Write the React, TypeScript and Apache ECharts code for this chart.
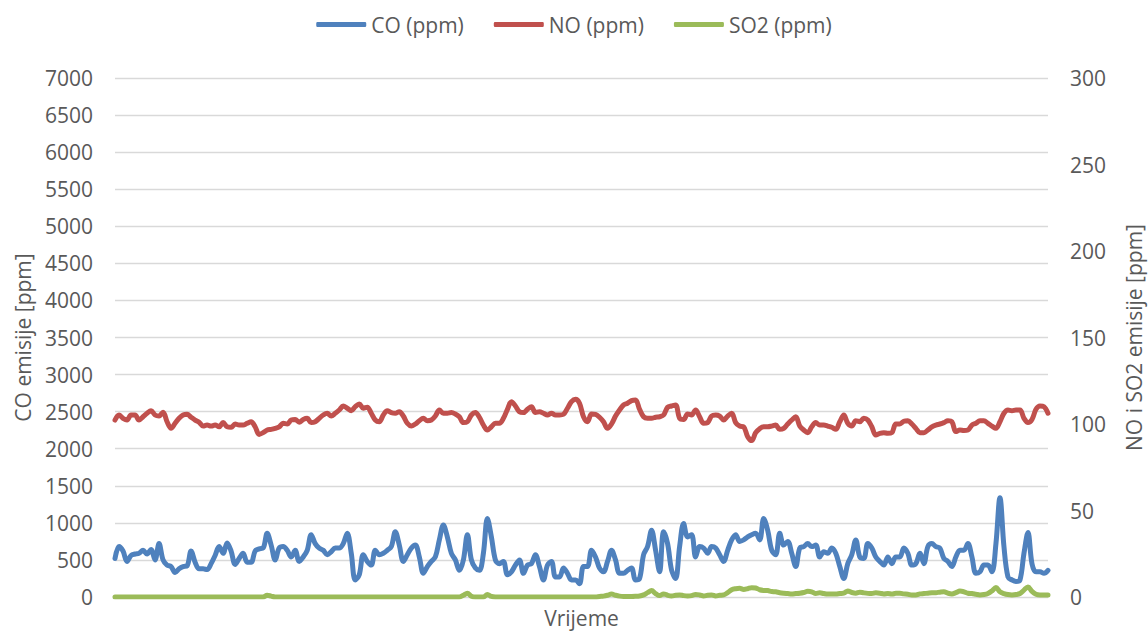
import React, { useEffect, useRef } from "react";
import * as echarts from "echarts";

const seriesNames = ["CO (ppm)", "NO (ppm)", "SO2 (ppm)"];

const coValues = [
  520, 680, 620, 480, 560, 580, 590, 630, 580, 640, 500, 720, 500, 430, 410, 330, 380, 410, 420, 620,
  470, 380, 380, 370, 450, 560, 680, 590, 730, 620, 440, 520, 590, 470, 470, 620, 650, 660, 860, 700,
  500, 660, 680, 630, 540, 630, 480, 540, 630, 840, 720, 660, 630, 570, 610, 660, 660, 720, 860, 590,
  230, 300, 570, 480, 430, 630, 570, 590, 630, 680, 880, 700, 480, 570, 660, 700, 540, 320, 410,
  480, 540, 770, 970, 810, 590, 500, 360, 500, 840, 500, 390, 360, 590, 1060, 810, 500, 450, 480, 300,
  340, 430, 500, 320, 430, 450, 570, 410, 230, 430, 480, 270, 270, 390, 320, 230, 230, 180, 410,
  410, 630, 540, 390, 340, 480, 630, 500, 320, 320, 360, 390, 230, 250, 570, 680, 900, 630, 340, 880,
  720, 360, 250, 680, 990, 810, 840, 540, 680, 660, 590, 680, 660, 570, 480, 630, 770, 840, 750,
  770, 810, 840, 860, 770, 1060, 900, 630, 570, 860, 700, 750, 590, 410, 660, 680, 720, 680, 700, 540,
  610, 590, 660, 590, 410, 250, 450, 570, 770, 540, 520, 720, 660, 540, 480, 430, 540, 450, 540,
  540, 660, 590, 430, 450, 590, 450, 680, 720, 680, 660, 520, 480, 410, 540, 630, 630, 720, 540, 320,
  340, 430, 430, 340, 720, 1340, 680, 270, 230, 210, 230, 590, 870, 450, 340, 340, 320, 360,
];

const noValues = [
  102.3, 105.2, 103.3, 102.3, 105.2, 105.2, 102.3, 104.2, 106.2, 107.7, 105.2, 104.6, 106.8, 101.3, 97.5, 100.4, 103.3, 105.2, 105.6, 103.9,
  102.3, 101, 98.8, 99.4, 98.8, 99.4, 98.4, 100.8, 98.4, 98.1, 100, 99.4, 99.4, 100.4, 101.3, 98.4, 94, 95, 96.5, 96.9,
  97.5, 98.4, 100.4, 100, 102.3, 102.6, 101, 102.6, 103.3, 100.8, 101.3, 103.3, 105.2, 106.2, 104.6, 106.2, 108.1, 110.4, 109.1, 107.7,
  110, 111.6, 109.1, 109.7, 106.2, 102.3, 101.3, 105.2, 107.7, 106.6, 106.2, 107.1, 104.6, 100.4, 98.8, 100, 101.9, 103.3, 101.9,
  102.3, 104.6, 108.1, 106.2, 106.2, 106.6, 105.8, 104.2, 100.8, 101.3, 105.2, 106.6, 103.9, 99.4, 96.5, 98.4, 100.4, 100.4, 103.3, 108.5,
  112.9, 110.4, 107.1, 106.6, 108.5, 110, 106.6, 107.1, 106.2, 105.2, 106.2, 105.2, 105.2, 105.6, 109.1, 112.9, 114.3, 112, 104.2,
  101.3, 105.8, 105.6, 103.9, 101.3, 97.5, 100, 104.6, 108.1, 111, 112, 113.5, 113.9, 108.5, 104.2, 103.3, 103.3, 103.9, 104.2, 105.2,
  109.7, 110.4, 111, 103.3, 102.6, 105.8, 105.2, 108.1, 104.2, 100.4, 100.8, 104.6, 105.2, 104.6, 102.3, 104.6, 106.2, 100.8, 98.8,
  98.4, 92.7, 90.4, 95, 97.3, 98.4, 98.4, 98.8, 99.4, 96.9, 97.5, 100, 102.3, 104.2, 98.8, 96.5, 95, 98.4, 100.8, 99.4,
  99.4, 98.8, 98.1, 96.9, 101.3, 105.2, 100.4, 98.8, 101.9, 101.3, 103.3, 102.3, 98.4, 93.6, 94.6, 95, 94.6, 95, 100,
  100, 101.6, 101.9, 100, 97.5, 95, 95, 96.5, 98.4, 99.4, 100, 100.8, 101.9, 101.3, 95.6, 96.5, 96.2, 96.5, 99.4, 100.4,
  101.9, 101.9, 100.4, 98.8, 97.5, 101.3, 106.2, 108.1, 107.7, 108.1, 108.1, 103.3, 100.8, 102.6, 108.5, 110.4, 110, 106.2,
];

const so2Values = [
  0, 0, 0, 0, 0, 0, 0, 0, 0, 0, 0, 0, 0, 0, 0, 0, 0, 0, 0, 0,
  0, 0, 0, 0, 0, 0, 0, 0, 0, 0, 0, 0, 0, 0, 0, 0, 0, 0, 1.0, 0.5,
  0, 0, 0, 0, 0, 0, 0, 0, 0, 0, 0, 0, 0, 0, 0, 0, 0, 0, 0, 0,
  0, 0, 0, 0, 0, 0, 0, 0, 0, 0, 0, 0, 0, 0, 0, 0, 0, 0, 0, 0,
  0, 0, 0, 0, 0, 0, 0, 1, 2.2, 0.5, 0, 0, 0, 1.5, 0.3, 0, 0, 0, 0, 0,
  0, 0, 0, 0, 0, 0, 0, 0, 0, 0, 0, 0, 0, 0, 0, 0, 0, 0,
  0, 0, 0, 0.3, 0.5, 1.0, 1.7, 1.0, 0.5, 0.3, 0.3, 0.3, 0.4, 0.6, 1.2, 2.5, 3.7, 2.0, 0.8, 1.8,
  1.0, 0.6, 1.0, 1.2, 0.8, 0.6, 0.8, 1.5, 1.2, 0.6, 1.0, 1.2, 0.6, 1.0, 1.2, 2.5, 4.2, 4.8, 5.0,
  4.4, 4.8, 5.4, 5.2, 4.2, 3.8, 3.7, 3.2, 3.0, 2.5, 2.2, 2.0, 1.8, 2.0, 2.2, 2.6, 3.3, 3.0, 2.0, 2.4,
  2.0, 1.7, 1.8, 1.7, 2.0, 2.2, 3.5, 2.6, 2.2, 2.8, 2.4, 2.1, 2.0, 2.4, 2.2, 1.8, 2.0, 1.7, 2.1,
  2.1, 1.8, 1.6, 1.2, 1.2, 1.8, 2.0, 2.2, 2.4, 2.5, 2.8, 3.0, 2.2, 1.8, 2.5, 3.4, 3.0, 2.2, 2.0, 1.6,
  1.2, 1.4, 2.0, 3.5, 5.5, 3.0, 2.0, 1.4, 1.2, 1.4, 2.0, 4.0, 5.8, 3.2, 1.6, 1.2, 1.2, 1.2,
];

const timeCategories = coValues.map((_, i) => String(i + 1));

const leftAxisName = "CO emisije [ppm]";
const rightAxisName = "NO i SO2 emisije [ppm]";
const xAxisName = "Vrijeme";

const FONT = "'Open Sans', 'DejaVu Sans', sans-serif";
const TEXT_COLOR = "#595959";
const FS = 21;

export default function App() {
  const ref = useRef<HTMLDivElement>(null);

  useEffect(() => {
    if (!ref.current) return;
    const chart = echarts.init(ref.current, null, { renderer: "svg" });
    const lineSeries = (name: string, data: number[], color: string, yAxisIndex: number) => ({
      name,
      type: "line",
      data,
      yAxisIndex,
      smooth: 0.35,
      showSymbol: false,
      symbol: "none",
      lineStyle: { color, width: 5, cap: "round", join: "round" },
      itemStyle: { color },
    });
    chart.setOption({
      animation: false,
      backgroundColor: "#ffffff",
      textStyle: { fontFamily: FONT },
      legend: {
        top: 9,
        left: "center",
        icon: "roundRect",
        itemWidth: 50,
        itemHeight: 5,
        itemGap: 30,
        textStyle: { fontSize: FS, color: TEXT_COLOR, fontFamily: FONT },
        data: seriesNames,
      },
      grid: { left: 115, right: 100, top: 78, bottom: 34, containLabel: false, outerBoundsMode: "none" },
      xAxis: {
        type: "category",
        data: timeCategories,
        boundaryGap: false,
        name: xAxisName,
        nameLocation: "middle",
        nameGap: 10,
        nameTextStyle: { fontSize: FS, color: TEXT_COLOR, fontFamily: FONT, verticalAlign: "top" },
        axisLine: { show: true, lineStyle: { color: "#D9D9D9", width: 1 } },
        axisTick: { show: false },
        axisLabel: { show: false },
        splitLine: { show: false },
      },
      yAxis: [
        {
          type: "value",
          min: 0,
          max: 7000,
          interval: 500,
          name: leftAxisName,
          nameLocation: "middle",
          nameRotate: 90,
          nameGap: 82,
          nameTextStyle: { fontSize: FS, color: TEXT_COLOR, fontFamily: FONT },
          axisLine: { show: false },
          axisTick: { show: false },
          axisLabel: {
            fontSize: FS,
            color: TEXT_COLOR,
            fontFamily: FONT,
            margin: 22,
            formatter: (v: number) => String(v),
          },
          splitLine: { show: true, lineStyle: { color: "#D9D9D9", width: 1.3 } },
        },
        {
          type: "value",
          min: 0,
          max: 300,
          interval: 50,
          position: "right",
          name: rightAxisName,
          nameLocation: "middle",
          nameRotate: 90,
          nameGap: 75,
          nameTextStyle: { fontSize: FS, color: TEXT_COLOR, fontFamily: FONT },
          axisLine: { show: false },
          axisTick: { show: false },
          axisLabel: {
            fontSize: FS,
            color: TEXT_COLOR,
            fontFamily: FONT,
            margin: 22,
            formatter: (v: number) => String(v),
          },
          splitLine: { show: false },
        },
      ],
      series: [
        lineSeries(seriesNames[0], coValues, "#4F81BD", 0),
        lineSeries(seriesNames[1], noValues, "#C0504D", 1),
        lineSeries(seriesNames[2], so2Values, "#9BBB59", 1),
      ],
    });
    return () => chart.dispose();
  }, []);

  return <div ref={ref} style={{ width: 1148, height: 631, position: "absolute", left: 0, top: 0 }} />;
}
